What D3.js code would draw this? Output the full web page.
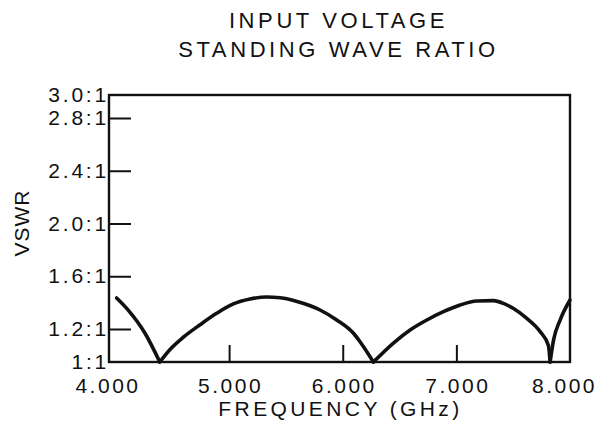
<!DOCTYPE html>
<html>
<head>
<meta charset="utf-8">
<script src="https://cdn.jsdelivr.net/npm/d3@7"></script>
<style>
  html, body { margin: 0; padding: 0; background: #ffffff; }
  svg { display: block; }
  text { font-family: "Liberation Sans", Arial, Helvetica, sans-serif; fill: #111; }
</style>
</head>
<body>
<svg id="chart" width="601" height="430"></svg>
<script>
// ---- data ----
const titleLines = ["INPUT VOLTAGE", "STANDING WAVE RATIO"];
const xTickValues = [4, 5, 6, 7, 8];
const xTickLabels = ["4.000", "5.000", "6.000", "7.000", "8.000"];
const xMarkedTicks = [5, 6, 7];
const yTickValues = [1.0, 1.2, 1.6, 2.0, 2.4, 2.8, 3.0];
const yTickLabels = ["1:1", "1.2:1", "1.6:1", "2.0:1", "2.4:1", "2.8:1", "3.0:1"];
const freqGHz = [4.01, 4.11, 4.26, 4.39,
                 4.48, 4.597, 4.744, 4.89, 5.037, 5.184, 5.33, 5.448, 5.507, 5.65, 5.80, 5.947, 6.094, 6.152, 6.27,
                 6.446, 6.593, 6.74, 6.886, 7.033, 7.18, 7.326, 7.42, 7.50, 7.62, 7.737, 7.81, 7.825,
                 7.855, 7.913, 8.0];
const vswr    = [1.435, 1.345, 1.174, 1.0,
                 1.076, 1.15, 1.232, 1.319, 1.39, 1.427, 1.443, 1.437, 1.43, 1.395, 1.344, 1.268, 1.174, 1.123, 1.0,
                 1.115, 1.194, 1.268, 1.331, 1.382, 1.412, 1.415, 1.392, 1.357, 1.28, 1.184, 1.10, 1.0,
                 1.133, 1.268, 1.42];
const dipFreqs = [4.39, 6.27, 7.825];   // sharp cusps (VSWR 1:1)

// ---- scales ----
const svg = d3.select("#chart");
const x = d3.scaleLinear().domain([3.943, 8.0]).range([109, 570]);
const y = d3.scaleLinear().domain([1.0, 1.2, 2.8, 3.0]).range([362, 329, 118, 95]);

const plotL = x.range()[0], plotR = x.range()[1];
const plotT = y(3.0), plotB = y(1.0);

// ---- title ----
const cx = (plotL + plotR) / 2;
svg.append("text").attr("x", cx - 1).attr("y", 28).attr("text-anchor", "middle")
  .style("font-size", "22px").style("letter-spacing", "3.6px").text(titleLines[0]);
svg.append("text").attr("x", cx - 1).attr("y", 57).attr("text-anchor", "middle")
  .style("font-size", "22px").style("letter-spacing", "3.6px").text(titleLines[1]);

// ---- axes ----
const yAxis = d3.axisLeft(y).tickValues(yTickValues)
  .tickFormat((d, i) => yTickLabels[i]).tickSize(-22).tickPadding(0);
const gy = svg.append("g").attr("transform", `translate(${plotL},0)`).call(yAxis);
gy.select(".domain").remove();
gy.selectAll(".tick line").attr("stroke", "#111").attr("stroke-width", 2)
  .filter(d => d === 1.0 || d === 3.0).remove();
gy.selectAll(".tick text").style("font-size", "21px").style("letter-spacing", "2.8px")
  .attr("fill", "#111").style("font-family", "'Liberation Sans', Arial, sans-serif");

const xAxis = d3.axisBottom(x).tickValues(xTickValues)
  .tickFormat((d, i) => xTickLabels[i]).tickSize(-17).tickPadding(16);
const gx = svg.append("g").attr("transform", `translate(0,${plotB})`).call(xAxis);
gx.select(".domain").remove();
gx.selectAll(".tick line").attr("stroke", "#111").attr("stroke-width", 2)
  .filter(d => !xMarkedTicks.includes(d)).remove();
gx.selectAll(".tick text").style("font-size", "21px").style("letter-spacing", "2.5px")
  .attr("fill", "#111").style("font-family", "'Liberation Sans', Arial, sans-serif")
  .attr("dx", d => d === 4 ? -8 : d === 8 ? -6 : 1);

// ---- frame ----
svg.append("rect").attr("x", plotL).attr("y", plotT)
  .attr("width", plotR - plotL).attr("height", plotB - plotT)
  .attr("fill", "none").attr("stroke", "#111").attr("stroke-width", 2.4);

// ---- axis titles ----
svg.append("text").attr("x", cx + 1).attr("y", 416).attr("text-anchor", "middle")
  .style("font-size", "21px").style("letter-spacing", "3.4px").text("FREQUENCY (GHz)");
svg.append("text").attr("transform", "translate(29,223) rotate(-90)").attr("text-anchor", "middle")
  .style("font-size", "21px").style("letter-spacing", "1px").text("VSWR");

// ---- curve (split at the cusps) ----
const pts = freqGHz.map((f, i) => ({ f, v: vswr[i] }));
const bounds = [freqGHz[0], ...dipFreqs, freqGHz[freqGHz.length - 1]];
const segments = [];
for (let k = 0; k < bounds.length - 1; k++) {
  segments.push(pts.filter(p => p.f >= bounds[k] && p.f <= bounds[k + 1]));
}
const line = d3.line().x(d => x(d.f)).y(d => y(d.v)).curve(d3.curveMonotoneX);
svg.append("g").selectAll("path").data(segments).join("path")
  .attr("d", line).attr("fill", "none").attr("stroke", "#111")
  .attr("stroke-width", 3.6).attr("stroke-linejoin", "round").attr("stroke-linecap", "round");
</script>
</body>
</html>
